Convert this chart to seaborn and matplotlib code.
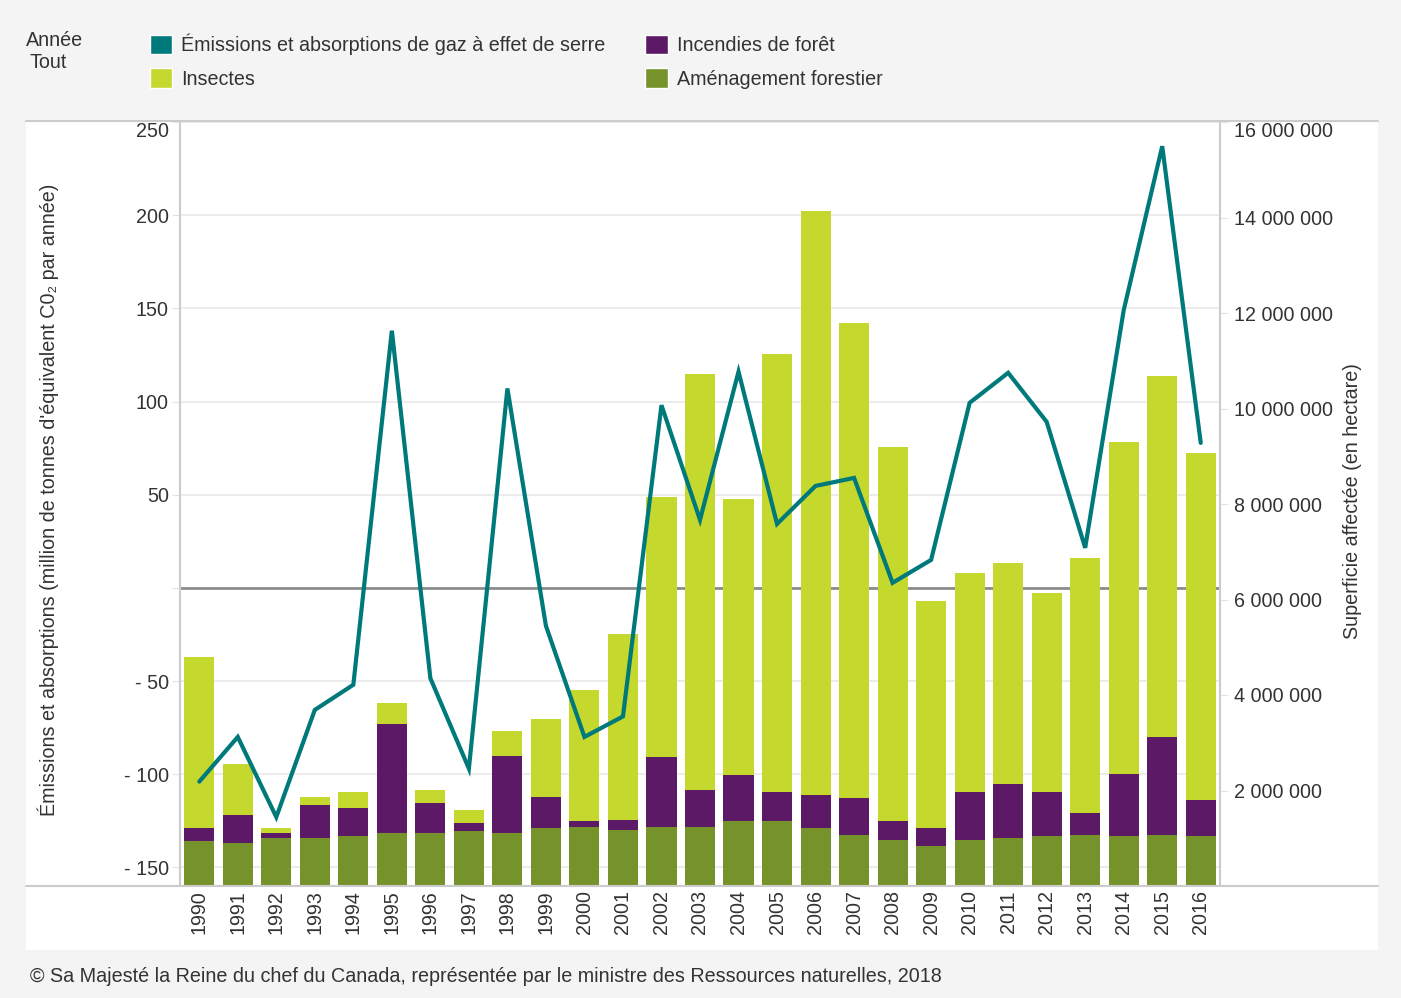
import numpy as np
import matplotlib
matplotlib.use("Agg")
import matplotlib.pyplot as plt
import seaborn as sns
from matplotlib.patches import Patch, Rectangle
from matplotlib.lines import Line2D

# ================================================
#  Données
# ================================================

annees = [str(a) for a in range(1990, 2017)]

# Superficie affectée (hectares)
amenagement = [936000, 901000, 999000, 999000, 1041000, 1104000, 1104000, 1146000, 1104000,
               1208000, 1242000, 1179000, 1242000, 1242000, 1355000, 1355000, 1208000, 1074000,
               970000, 831000, 970000, 1005000, 1041000, 1074000, 1041000, 1074000, 1041000]
incendies = [272000, 586000, 105000, 697000, 586000, 2282000, 628000, 167000, 1625000,
             662000, 113000, 203000, 1460000, 762000, 963000, 614000, 691000, 763000,
             385000, 377000, 999000, 1137000, 928000, 449000, 1311000, 2040000, 754000]
insectes = [3582000, 1068000, 104000, 174000, 342000, 446000, 278000, 279000, 517000,
            1621000, 2750000, 3895000, 5445000, 8719000, 5787000, 9172000, 12237000, 9954000,
            7839000, 4761000, 4586000, 4622000, 4167000, 5346000, 6946000, 7567000, 7273000]

# Émissions et absorptions (Mt éq. CO2)
emissions = [-104, -80, -123, -65.5, -52, 138, -48.5, -97, 107, -20.4, -80, -69, 98, 36.5,
             116, 34.3, 54.7, 59, 2.7, 15, 99.3, 115.4, 89.1, 21.5, 149, 237, 77.8]

# Couleurs
c_teal = "#00797b"
c_lime = "#c5d82e"
c_violet = "#5c1a66"
c_olive = "#76922b"
c_texte = "#333333"
c_gris = "#cccccc"

# Cumuls pour l'empilement
cumul_vert = np.array(amenagement)
cumul_violet = cumul_vert + np.array(incendies)
cumul_total = cumul_violet + np.array(insectes)

# ================================================
#  Figure
# ================================================

sns.set_style("white")
plt.rcParams['font.family'] = ['Liberation Sans', 'DejaVu Sans']
FS = 14.2

W, H = 1401, 998
fig = plt.figure(figsize=(W / 100, H / 100), dpi=100, facecolor="#f4f4f4")

# Panneau blanc
fig.patches.append(Rectangle((26 / W, 1 - 950 / H), (1378 - 26) / W, (950 - 121) / H,
                             transform=fig.transFigure, facecolor="white", edgecolor="none", zorder=-5))
fig.lines.append(Line2D([26 / W, 1378 / W], [1 - 121 / H] * 2, transform=fig.transFigure,
                        color=c_gris, lw=1.5, zorder=-4))
fig.lines.append(Line2D([26 / W, 1378 / W], [1 - 886 / H] * 2, transform=fig.transFigure,
                        color=c_gris, lw=1.5, zorder=5))

ax = fig.add_axes([180 / W, 1 - 886 / H, 1040 / W, 764 / H])
ax.set_facecolor("white")
ax_b = ax.twinx()
ax_l = ax.twinx()

# Axe de gauche : grille et zéro
ax.set_ylim(-160, 250)
ax.set_yticks([-150, -100, -50, 0, 50, 100, 150, 200, 250])
ax.set_yticklabels(['- 150', '- 100', '- 50', '', '50', '100', '150', '200', '250'])
ax.yaxis.grid(True, color="#e9e9e9", lw=1.2)
ax.axhline(0, color="#8c8c8c", lw=2)

# Barres empilées (axe de droite)
sns.barplot(x=annees, y=cumul_total, color=c_lime, saturation=1, width=0.78, linewidth=0, ax=ax_b)
sns.barplot(x=annees, y=cumul_violet, color=c_violet, saturation=1, width=0.78, linewidth=0, ax=ax_b)
sns.barplot(x=annees, y=cumul_vert, color=c_olive, saturation=1, width=0.78, linewidth=0, ax=ax_b)
ax_b.set_ylim(0, 16e6)
ticks_d = [2e6, 4e6, 6e6, 8e6, 10e6, 12e6, 14e6, 16e6]
ax_b.set_yticks(ticks_d)
ax_b.set_yticklabels([f"{int(t):,}".replace(",", " ") for t in ticks_d])
ax_b.set_xlabel("")
ax_b.set_ylabel("")

# Ligne des émissions
sns.lineplot(x=np.arange(len(annees)), y=emissions, color=c_teal, lw=3.0, ax=ax_l,
             solid_joinstyle="miter")
ax_l.set_ylim(-160, 250)
ax_l.set_yticks([])
ax_l.set_xlim(-0.5, len(annees) - 0.5)

# Axe des x
ax.set_xticks(np.arange(len(annees)))
ax.set_xticklabels(annees, rotation=90, fontsize=FS, color=c_texte)
ax.set_xticks(np.arange(-0.5, len(annees), 1), minor=True)
ax.tick_params(axis="x", which="major", length=0, pad=3)
ax.tick_params(axis="x", which="minor", length=8, color="#e3e3e3", width=1)
ax.tick_params(axis="y", length=6, color="#e3e3e3", labelsize=FS, labelcolor=c_texte, pad=2)
ax_b.tick_params(axis="y", length=6, color="#e3e3e3", labelsize=FS, labelcolor=c_texte, pad=4)

# Étiquettes du haut décalées vers le bas, comme dans l'original
ax.get_yticklabels()[-1].set_va("top")
ax_b.get_yticklabels()[-1].set_va("top")

for a in (ax, ax_b, ax_l):
    for s in a.spines.values():
        s.set_visible(False)
ax.spines["left"].set_visible(True)
ax.spines["left"].set_color(c_gris)
ax.spines["left"].set_linewidth(1.5)
ax_b.spines["right"].set_visible(True)
ax_b.spines["right"].set_color(c_gris)
ax_b.spines["right"].set_linewidth(1.5)

# Titres des axes
fig.text(48 / W, 1 - 500 / H,
         "Émissions et absorptions (million de tonnes d'équivalent C0₂ par année)",
         rotation=90, ha="center", va="center", fontsize=FS, color=c_texte)
fig.text(1353 / W, 1 - 501 / H, "Superficie affectée (en hectare)",
         rotation=90, ha="center", va="center", fontsize=FS, color=c_texte)

# Légende
poignees = [Patch(facecolor=c_teal), Patch(facecolor=c_lime),
            Patch(facecolor=c_violet), Patch(facecolor=c_olive)]
etiquettes = ["Émissions et absorptions de gaz à effet de serre", "Insectes",
              "Incendies de forêt", "Aménagement forestier"]
fig.legend(poignees, etiquettes, ncol=2, loc="upper left", bbox_to_anchor=(132 / W, 1 - 16 / H),
           frameon=False, fontsize=FS, handlelength=1.15, handleheight=1.15, handletextpad=0.45,
           columnspacing=2.0, labelspacing=0.65, labelcolor=c_texte)

fig.text(26 / W, 1 - 40 / H, "Année", ha="left", va="center", fontsize=FS, color=c_texte)
fig.text(30 / W, 1 - 63 / H, "Tout", ha="left", va="center", fontsize=FS, color=c_texte)

fig.text(30 / W, 1 - 977 / H,
         "© Sa Majesté la Reine du chef du Canada, représentée par le ministre des Ressources naturelles, 2018",
         ha="left", va="center", fontsize=FS, color=c_texte)

fig.savefig("out.png", dpi=100, facecolor=fig.get_facecolor())
